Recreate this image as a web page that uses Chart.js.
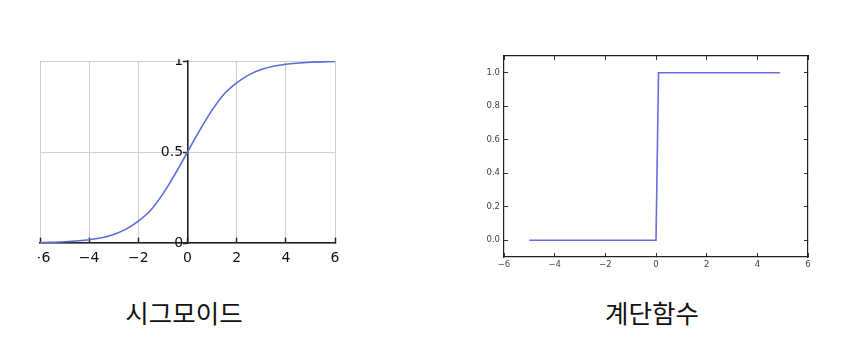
<!DOCTYPE html>
<html>
<head>
<meta charset="utf-8">
<script src="https://cdn.jsdelivr.net/npm/chart.js@4"></script>
<style>
  html, body { margin: 0; padding: 0; background: #fff; width: 862px; height: 362px; overflow: hidden; }
  canvas { position: absolute; }
  #c1 { left: 38px; top: 59px; }
  #c2 { left: 470px; top: 40px; }
  .cap { position: absolute; top: 297px; height: 30px; line-height: 30px; width: 200px; text-align: center;
         font-family: "Noto Sans CJK KR", sans-serif; font-size: 25.5px; color: #111; }
  #cap1 { left: 84px; }
  #cap2 { left: 552px; }
</style>
</head>
<body>
<canvas id="c1" width="312" height="215"></canvas>
<canvas id="c2" width="360" height="240"></canvas>
<div class="cap" id="cap1">시그모이드</div>
<div class="cap" id="cap2">계단함수</div>
<script>
// ---- data ----
const captions = ['시그모이드', '계단함수'];

// left panel: sigmoid curve
const sigmoidX = [-6, -5, -4, -3.5, -3, -2.5, -2, -1.5, -1, -0.5, 0, 0.5, 1, 1.5, 2, 2.5, 3, 3.5, 4, 5, 6];
const sigmoidY = [0.002, 0.007, 0.018, 0.029, 0.047, 0.076, 0.12, 0.18, 0.27, 0.38, 0.5, 0.62, 0.73, 0.82, 0.88, 0.924, 0.953, 0.971, 0.982, 0.993, 0.998];
const leftXTicks = [-6, -4, -2, 0, 2, 4, 6];
const leftXTickLabels = ['\u22126', '\u22124', '\u22122', '0', '2', '4', '6'];
const leftYTicks = [0, 0.5, 1];
const leftYTickLabels = ['0', '0.5', '1'];

// right panel: step function
const stepX = [-5, 0, 0.1, 4.9];
const stepY = [0, 0, 1, 1];
const rightXTicks = [-6, -4, -2, 0, 2, 4, 6];
const rightXTickLabels = ['\u22126', '\u22124', '\u22122', '0', '2', '4', '6'];
const rightYTicks = [0, 0.2, 0.4, 0.6, 0.8, 1.0];
const rightYTickLabels = ['0.0', '0.2', '0.4', '0.6', '0.8', '1.0'];

// ---- helpers ----
function pts(xs, ys) { return xs.map((x, i) => ({ x: x, y: ys[i] })); }
function fixTicks(values) {
  return function (scale) { scale.ticks = values.map(v => ({ value: v })); };
}
function labelFrom(values, labels, suffix) {
  return function (value) {
    const i = values.findIndex(v => Math.abs(v - value) < 1e-9);
    return i >= 0 ? labels[i] + (suffix || '') : '';
  };
}
function fixSize(w, h) {
  return function (scale) {
    scale.paddingLeft = 0; scale.paddingRight = 0; scale.paddingTop = 0; scale.paddingBottom = 0;
    if (w !== null) scale.width = w;
    if (h !== null) scale.height = h;
  };
}

// ---- left chart: sigmoid ----
new Chart(document.getElementById('c1'), {
  type: 'line',
  data: {
    datasets: [{
      data: pts(sigmoidX, sigmoidY),
      borderColor: '#5b6cd9',
      borderWidth: 1.6,
      pointRadius: 0,
      cubicInterpolationMode: 'monotone',
      fill: false
    }]
  },
  options: {
    responsive: false,
    animation: false,
    devicePixelRatio: 1,
    layout: { padding: { left: 2, top: 2, right: 15, bottom: 31 } },
    plugins: { legend: { display: false }, tooltip: { enabled: false } },
    scales: {
      x: {
        type: 'linear', min: -6, max: 6,
        position: { y: 0 },
        afterBuildTicks: fixTicks(leftXTicks),
        afterFit: fixSize(null, null),
        grid: { color: '#cfcfcf', lineWidth: 1, tickColor: '#222', tickLength: -6, tickWidth: 1.5 },
        border: { display: true, color: '#222', width: 1.6 },
        ticks: {
          padding: 13,
          color: '#111',
          font: { family: 'DejaVu Sans', size: 14 },
          maxRotation: 0,
          autoSkip: false,
          callback: labelFrom(leftXTicks, leftXTickLabels)
        }
      },
      y: {
        type: 'linear', min: 0, max: 1,
        position: { x: 0 },
        afterBuildTicks: fixTicks(leftYTicks),
        afterFit: fixSize(null, null),
        grid: { color: '#cfcfcf', lineWidth: 1, tickColor: '#222', tickLength: 4, tickWidth: 1.5 },
        border: { display: true, color: '#222', width: 1.6 },
        ticks: {
          padding: 0,
          color: '#111',
          font: { family: 'DejaVu Sans', size: 14 },
          autoSkip: false,
          callback: labelFrom(leftYTicks, leftYTickLabels, ' ')
        }
      }
    }
  }
});

// ---- right chart: step function ----
const tickFontR = { family: 'DejaVu Sans', size: 8.5 };
new Chart(document.getElementById('c2'), {
  type: 'line',
  data: {
    datasets: [{
      data: pts(stepX, stepY),
      borderColor: '#6b6be0',
      borderWidth: 1.6,
      pointRadius: 0,
      tension: 0,
      fill: false
    }]
  },
  options: {
    responsive: false,
    animation: false,
    devicePixelRatio: 1,
    layout: { padding: { left: 0, top: 16, right: 22, bottom: 0 } },
    plugins: { legend: { display: false }, tooltip: { enabled: false } },
    scales: {
      x: {
        type: 'linear', min: -6, max: 6, position: 'bottom',
        afterBuildTicks: fixTicks(rightXTicks),
        afterFit: fixSize(null, 23),
        grid: { drawOnChartArea: false, tickColor: '#333', tickLength: -4, tickWidth: 1 },
        border: { display: true, color: '#222', width: 1.2 },
        ticks: { padding: 7, color: '#444', font: tickFontR, maxRotation: 0, autoSkip: false,
                 callback: labelFrom(rightXTicks, rightXTickLabels) }
      },
      x2: {
        type: 'linear', min: -6, max: 6, position: 'top', axis: 'x',
        afterBuildTicks: fixTicks(rightXTicks),
        afterFit: fixSize(null, 0),
        grid: { drawOnChartArea: false, tickColor: '#333', tickLength: -4, tickWidth: 1 },
        border: { display: true, color: '#222', width: 1.2 },
        ticks: { display: false }
      },
      y: {
        type: 'linear', min: -0.1, max: 1.1, position: 'left',
        afterBuildTicks: fixTicks(rightYTicks),
        afterFit: fixSize(34, null),
        grid: { drawOnChartArea: false, tickColor: '#333', tickLength: -4, tickWidth: 1 },
        border: { display: true, color: '#222', width: 1.2 },
        ticks: { padding: 8, color: '#444', font: tickFontR, autoSkip: false,
                 callback: labelFrom(rightYTicks, rightYTickLabels) }
      },
      y2: {
        type: 'linear', min: -0.1, max: 1.1, position: 'right', axis: 'y',
        afterBuildTicks: fixTicks(rightYTicks),
        afterFit: fixSize(0, null),
        grid: { drawOnChartArea: false, tickColor: '#333', tickLength: -4, tickWidth: 1 },
        border: { display: true, color: '#222', width: 1.2 },
        ticks: { display: false }
      }
    }
  }
});
</script>
</body>
</html>
